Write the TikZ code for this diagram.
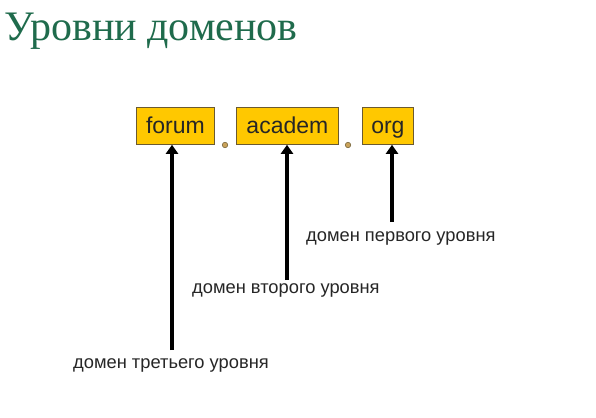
\documentclass[tikz,border=0pt]{standalone}
\usepackage{fontspec}
\setmainfont{Liberation Sans}
\newfontfamily\titlefont{Liberation Serif}
\usetikzlibrary{arrows.meta}
\definecolor{titlegreen}{HTML}{1F6B4C}
\definecolor{boxfill}{HTML}{FFC800}
\definecolor{boxline}{HTML}{6B5A30}
\definecolor{dotfill}{HTML}{C9A25A}
\tikzset{
  dombox/.style={draw=boxline, line width=0.8pt, fill=boxfill, inner sep=0pt, anchor=north west,
    minimum height=37pt, text height=17pt, text depth=2pt, text=black!85, font=\fontsize{23}{26}\selectfont},
  lbl/.style={font=\fontsize{18.3}{21}\selectfont, text=black!85, inner sep=0pt},
  arr/.style={line width=4pt, -{Triangle[length=9pt,width=12pt]}},
  sepdot/.style={circle, draw=boxline, fill=dotfill, line width=0.5pt, minimum size=5.5pt, inner sep=0pt}
}
\begin{document}
\begin{tikzpicture}[x=1pt,y=-1pt]
\useasboundingbox (0,0) rectangle (596,417);
\fill[white] (0,0) rectangle (596,417);
\node[anchor=base west, inner sep=0pt, text=titlegreen, font=\titlefont\fontsize{42}{46}\selectfont] (title) at (4,41) {Уровни доменов};

\node[dombox, minimum width=78pt] (forum) at (136,107) {forum};
\node[dombox, minimum width=102pt] (academ) at (236,107) {academ};
\node[dombox, minimum width=51pt] (org) at (362,107) {org};

\node[sepdot] (d1) at (225,145) {};
\node[sepdot] (d2) at (348,145) {};

\coordinate (s3) at (172,350);
\coordinate (s2) at (287,280);
\coordinate (s1) at (392,222);
\draw[arr] (s3) -- (s3 |- forum.south);
\draw[arr] (s2) -- (s2 |- academ.south);
\draw[arr] (s1) -- (s1 |- org.south);

\node[lbl, anchor=west] (l1) at (306,238) {домен первого уровня};
\node[lbl, anchor=west] (l2) at (192,290) {домен второго уровня};
\node[lbl, anchor=west] (l3) at (73,365) {домен третьего уровня};
\end{tikzpicture}
\end{document}
